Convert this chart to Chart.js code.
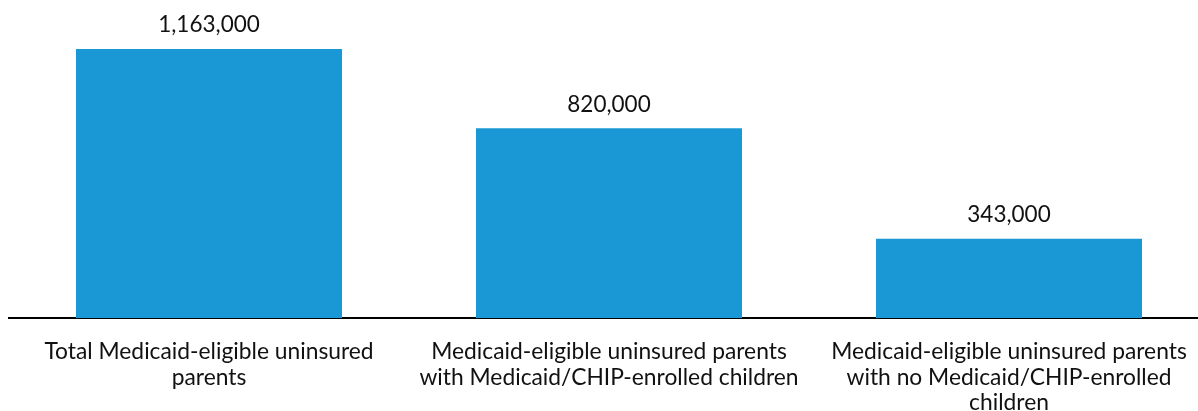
<!DOCTYPE html>
<html>
<head>
<meta charset="utf-8">
<script src="https://cdn.jsdelivr.net/npm/chart.js@4"></script>
<style>
  html, body { margin: 0; padding: 0; background: #fff; overflow: hidden; }
  #wrap { width: 1210px; height: 411px; position: relative; }
</style>
</head>
<body>
<div id="wrap"><canvas id="parentsChart"></canvas></div>
<script>
const categories = [
  ['Total Medicaid-eligible uninsured', 'parents'],
  ['Medicaid-eligible uninsured parents', 'with Medicaid/CHIP-enrolled children'],
  ['Medicaid-eligible uninsured parents', 'with no Medicaid/CHIP-enrolled', 'children']
];
const parentCounts = [1163000, 820000, 343000];

const barColor = '#1a98d5';

// draws the numbers above each bar
const valueLabels = {
  id: 'valueLabels',
  afterDatasetsDraw(chart) {
    const { ctx } = chart;
    const meta = chart.getDatasetMeta(0);
    ctx.save();
    ctx.font = '22.5px Lato';
    ctx.fillStyle = '#111';
    ctx.textAlign = 'center';
    ctx.textBaseline = 'middle';
    meta.data.forEach((bar, i) => {
      const v = chart.data.datasets[0].data[i];
      ctx.fillText(v.toLocaleString('en-US'), bar.x, bar.y - 24);
    });
    ctx.restore();
  }
};

new Chart(document.getElementById('parentsChart'), {
  type: 'bar',
  data: {
    labels: categories,
    datasets: [{
      data: parentCounts,
      backgroundColor: barColor,
      borderWidth: 0,
      barPercentage: 0.665,
      categoryPercentage: 1
    }]
  },
  options: {
    responsive: true,
    maintainAspectRatio: false,
    animation: false,
    layout: { padding: { left: 9, right: 1, top: 0, bottom: 0 } },
    plugins: {
      legend: { display: false },
      tooltip: { enabled: false }
    },
    scales: {
      x: {
        grid: { display: false, drawTicks: false },
        border: { display: true, color: '#000', width: 2 },
        ticks: {
          autoSkip: false,
          maxRotation: 0,
          padding: 21,
          color: '#111',
          font: { family: 'Lato', size: 22.8, lineHeight: 1.12 }
        },
        afterFit(scale) { scale.height = 93; }
      },
      y: {
        display: false,
        min: 0,
        max: 1374800
      }
    }
  },
  plugins: [valueLabels]
});
</script>
</body>
</html>
